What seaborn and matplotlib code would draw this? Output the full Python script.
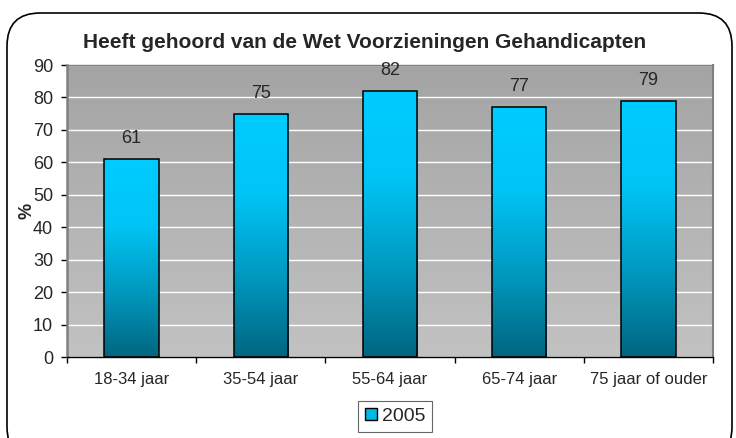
import numpy as np
import pandas as pd
import matplotlib
matplotlib.use('Agg')
import matplotlib.pyplot as plt
import seaborn as sns
from matplotlib.colors import LinearSegmentedColormap
from matplotlib.patches import FancyBboxPatch, Rectangle

# data
categories = ['18-34 jaar', '35-54 jaar', '55-64 jaar', '65-74 jaar', '75 jaar of ouder']
values = [61, 75, 82, 77, 79]
series = '2005'

df = pd.DataFrame({'leeftijd': categories, 'pct': values})

sns.set_style('white')
plt.rcParams['font.family'] = ['Liberation Sans', 'DejaVu Sans']

fig = plt.figure(figsize=(7.36, 4.38), dpi=100)
ax = fig.add_axes([67 / 736, 1 - 357 / 438, 646 / 736, 292 / 438])

sns.barplot(data=df, x='leeftijd', y='pct', color='#00ccff', width=0.42,
            edgecolor='black', linewidth=1.1, ax=ax, zorder=3)

ax.set_ylim(0, 90)
ax.set_yticks(range(0, 91, 10))
ax.set_xlim(-0.5, len(categories) - 0.5)

# gray gradient background
bg = LinearSegmentedColormap.from_list('bg', ['#c2c2c2', '#a4a4a4'])
grad = np.linspace(0, 1, 256).reshape(-1, 1)
ax.imshow(grad, cmap=bg, aspect='auto', origin='lower',
          extent=[-0.5, len(categories) - 0.5, 0, 90], zorder=0)
ax.grid(axis='y', color='white', linewidth=1, zorder=1)
ax.set_axisbelow(True)

# gradient fill for the bars
barmap = LinearSegmentedColormap.from_list('bar', ['#006680', '#0099c0', '#00c4f5', '#00ccff'])
for patch in ax.patches:
    x0, y0 = patch.get_x(), patch.get_y()
    w, h = patch.get_width(), patch.get_height()
    im = ax.imshow(grad, cmap=barmap, aspect='auto', origin='lower',
                   extent=[x0, x0 + w, y0, y0 + h], zorder=2.5)
    im.set_clip_path(patch)
    patch.set_facecolor('none')

for i, v in enumerate(values):
    ax.text(i, v + 3.6, str(v), ha='center', va='bottom', fontsize=13, zorder=4)

for s in ['top', 'right', 'left']:
    ax.spines[s].set_color('#808080')
ax.spines['top'].set_linewidth(1)
ax.spines['right'].set_linewidth(1.5)
ax.spines['left'].set_linewidth(1.8)
ax.spines['bottom'].set_color('black')
ax.spines['bottom'].set_linewidth(1)

ax.tick_params(axis='y', length=4, width=1, color='black', direction='out',
               left=True, labelsize=13, pad=6)
ax.tick_params(axis='x', length=0, labelsize=12, pad=11)
ax.set_xticks(np.arange(len(categories) + 1) - 0.5, minor=True)
ax.tick_params(axis='x', which='minor', length=4, width=1, color='black',
               direction='out', bottom=True)
ax.set_xlabel('')
ax.set_ylabel('%', fontsize=13, fontweight='bold', labelpad=-2)

fig.text(365 / 736, 1 - 42 / 438, 'Heeft gehoord van de Wet Voorzieningen Gehandicapten',
         ha='center', va='center', fontsize=15, fontweight='bold')

# legend
leg_patch = Rectangle((0, 0), 1, 1, facecolor='#00b8e6', edgecolor='black', linewidth=1)
leg = fig.legend([leg_patch], [series], loc='upper center',
                 bbox_to_anchor=(395 / 736, 1 - 401 / 438), frameon=True,
                 fancybox=False, fontsize=14, handlelength=0.6, handleheight=0.6,
                 handletextpad=0.25, borderpad=0.35, borderaxespad=0)
leg.get_frame().set_edgecolor('#404040')
leg.get_frame().set_linewidth(0.8)

# rounded outer border
border = FancyBboxPatch((7 / 736, -0.05), 725 / 736, 1 - 13 / 438 + 0.05,
                        boxstyle='round,pad=0,rounding_size=0.045',
                        transform=fig.transFigure, fill=False,
                        edgecolor='black', linewidth=1.2, mutation_aspect=736 / 438)
fig.patches.append(border)

fig.savefig('out.png', dpi=100, facecolor='white')
